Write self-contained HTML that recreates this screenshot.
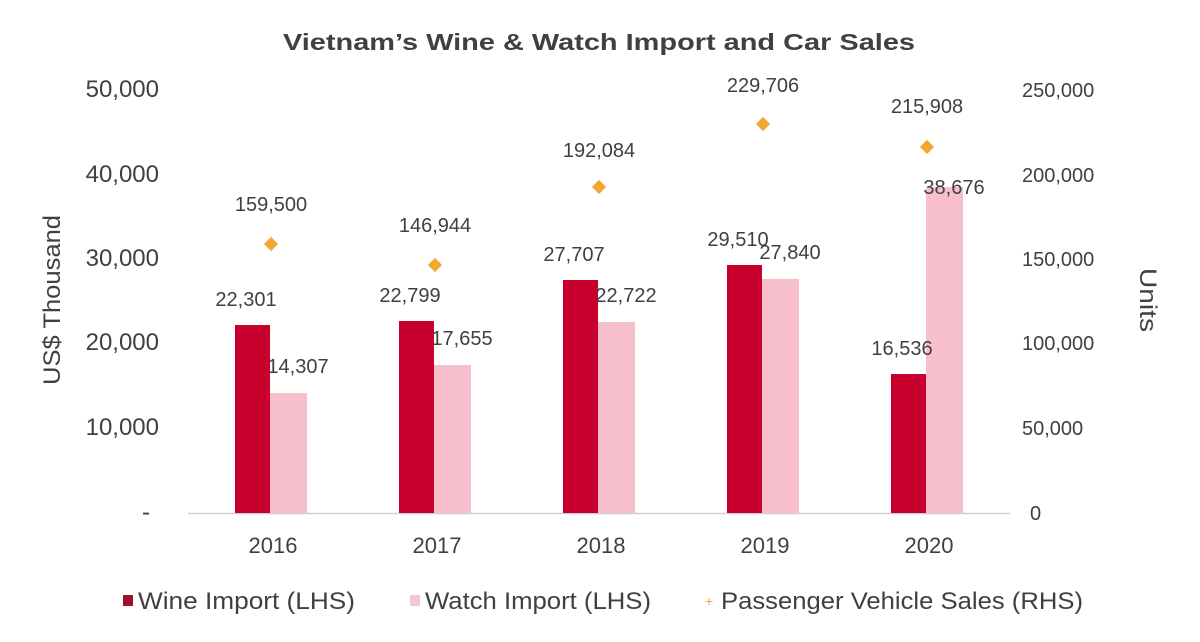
<!DOCTYPE html>
<html><head><meta charset="utf-8"><style>
body{margin:0;background:#fff}
svg{display:block}
text{font-family:"Liberation Sans",Arial,sans-serif;fill:#404040}
</style></head><body>
<svg width="1200" height="642" viewBox="0 0 1200 642">
<text x="283" y="50" font-size="23" font-weight="bold" textLength="632" lengthAdjust="spacingAndGlyphs">Vietnam’s Wine &amp; Watch Import and Car Sales</text>
<g font-size="24" text-anchor="end">
<text x="159" y="97">50,000</text>
<text x="159" y="182">40,000</text>
<text x="159" y="266">30,000</text>
<text x="159" y="350">20,000</text>
<text x="159" y="435">10,000</text>
<text x="150" y="520">-</text>
</g>
<g font-size="20" text-anchor="start">
<text x="1022" y="97">250,000</text>
<text x="1022" y="182">200,000</text>
<text x="1022" y="266">150,000</text>
<text x="1022" y="350">100,000</text>
<text x="1022" y="435">50,000</text>
<text x="1030" y="520">0</text>
</g>
<text transform="translate(60,300) rotate(-90)" x="-85" y="0" font-size="24" textLength="170" lengthAdjust="spacingAndGlyphs">US$ Thousand</text>
<text transform="translate(1140,300) rotate(90)" x="-32" y="0" font-size="24" textLength="64" lengthAdjust="spacingAndGlyphs">Units</text>
<line x1="188" y1="513.5" x2="1010" y2="513.5" stroke="#d0d0d0" stroke-width="1.5"/>
<g fill="#c8002d">
<rect x="235" y="325" width="35" height="188"/>
<rect x="399" y="321" width="35" height="192"/>
<rect x="563" y="280" width="35" height="233"/>
<rect x="727" y="265" width="35" height="248"/>
<rect x="891" y="374" width="35" height="139"/>
</g>
<g fill="#f7bfcc">
<rect x="270" y="393" width="37" height="120"/>
<rect x="434" y="365" width="37" height="148"/>
<rect x="598" y="322" width="37" height="191"/>
<rect x="762" y="279" width="37" height="234"/>
<rect x="926" y="187" width="37" height="326"/>
</g>
<g fill="#f0a830">
<rect x="266" y="239" width="10" height="10" transform="rotate(45 271 244)"/>
<rect x="430" y="260" width="10" height="10" transform="rotate(45 435 265)"/>
<rect x="594" y="182" width="10" height="10" transform="rotate(45 599 187)"/>
<rect x="758" y="119" width="10" height="10" transform="rotate(45 763 124)"/>
<rect x="922" y="142" width="10" height="10" transform="rotate(45 927 147)"/>
</g>
<g font-size="20" text-anchor="middle">
<text x="271" y="211">159,500</text>
<text x="435" y="232">146,944</text>
<text x="599" y="157">192,084</text>
<text x="763" y="92">229,706</text>
<text x="927" y="113">215,908</text>
<text x="246" y="306">22,301</text>
<text x="410" y="302">22,799</text>
<text x="574" y="261">27,707</text>
<text x="738" y="246">29,510</text>
<text x="902" y="355">16,536</text>
<text x="298" y="373">14,307</text>
<text x="462" y="345">17,655</text>
<text x="626" y="302">22,722</text>
<text x="790" y="259">27,840</text>
<text x="954" y="194">38,676</text>
</g>
<g font-size="22" text-anchor="middle">
<text x="273" y="553">2016</text>
<text x="437" y="553">2017</text>
<text x="601" y="553">2018</text>
<text x="765" y="553">2019</text>
<text x="929" y="553">2020</text>
</g>
<rect x="123" y="595" width="10" height="11" fill="#a0102e"/>
<text x="138" y="609" font-size="24" textLength="217" lengthAdjust="spacingAndGlyphs">Wine Import (LHS)</text>
<rect x="410" y="595" width="10" height="11" fill="#f2c8d2"/>
<text x="425" y="609" font-size="24" textLength="226" lengthAdjust="spacingAndGlyphs">Watch Import (LHS)</text>
<text x="705" y="606" font-size="14" style="fill:#f0a830">+</text>
<text x="721" y="609" font-size="24" textLength="362" lengthAdjust="spacingAndGlyphs">Passenger Vehicle Sales (RHS)</text>
</svg>
</body></html>
